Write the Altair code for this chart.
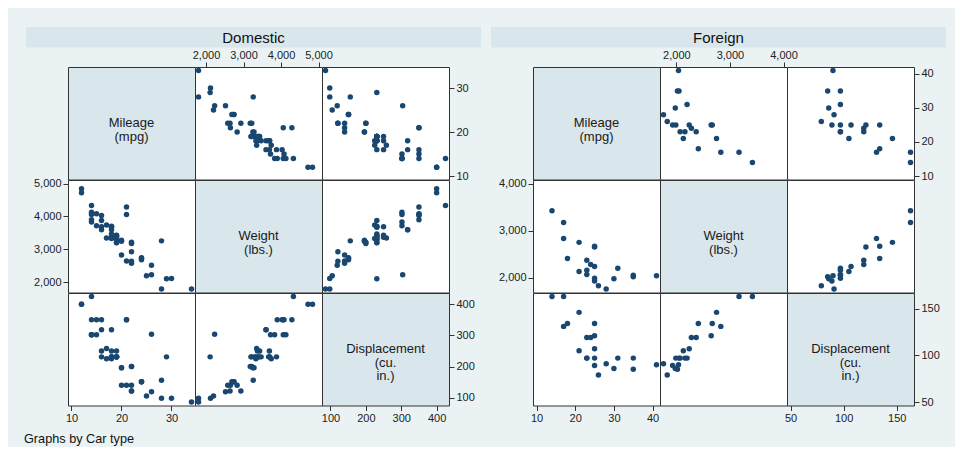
import altair as alt
import pandas as pd

# ---------------- data (1978 automobile data) ----------------
dom_mpg = [22, 17, 22, 20, 15, 18, 26, 20, 16, 19, 14, 14, 21, 29, 16, 22, 22, 24, 19, 30,
           18, 16, 17, 28, 21, 12, 12, 14, 22, 14, 15, 18, 14, 20, 21, 19, 19, 18, 19, 24,
           16, 28, 34, 25, 26, 18, 18, 18, 19, 19, 19, 24]
dom_weight = [2930, 3350, 2640, 3250, 4080, 3670, 2230, 3280, 3880, 3400, 4330, 3900, 4290,
              2110, 3690, 3180, 3220, 2750, 3430, 2120, 3600, 3600, 3740, 1800, 2650, 4840,
              4720, 3830, 2580, 4060, 3720, 3370, 4130, 2830, 4060, 3310, 3300, 3690, 3370,
              2730, 4030, 3260, 1800, 2200, 2520, 3330, 3700, 3470, 3210, 3200, 3420, 2690]
dom_displ = [121, 258, 121, 196, 350, 231, 304, 196, 231, 231, 425, 350, 350, 231, 250, 200,
             200, 151, 250, 98, 318, 318, 225, 98, 140, 400, 400, 302, 140, 302, 302, 250,
             302, 140, 350, 231, 231, 231, 231, 151, 350, 156, 86, 105, 119, 225, 231, 231,
             231, 231, 231, 151]

for_mpg = [17, 23, 25, 23, 35, 24, 21, 21, 25, 28, 30, 14, 26, 35, 18, 31, 25, 23, 41, 25, 25, 17]
for_weight = [2830, 2070, 2650, 2370, 2020, 2280, 2750, 2130, 2240, 1760, 1980, 3420, 1830,
              2050, 2410, 2200, 2670, 2160, 2040, 1930, 1990, 3170]
for_displ = [131, 97, 121, 119, 85, 119, 146, 105, 107, 91, 86, 163, 79, 97, 134, 97, 134,
             97, 90, 89, 97, 163]

panels = ["Domestic", "Foreign"]
var_names = ["mpg", "weight", "displ"]
var_labels = {"mpg": ["Mileage", "(mpg)"],
              "weight": ["Weight", "(lbs.)"],
              "displ": ["Displacement", "(cu.", "in.)"]}
ticks = {
    "Domestic": {"mpg": [10, 20, 30], "weight": [2000, 3000, 4000, 5000], "displ": [100, 200, 300, 400]},
    "Foreign": {"mpg": [10, 20, 30, 40], "weight": [2000, 3000, 4000], "displ": [50, 100, 150]},
}
footer = "Graphs by Car type"

frames = {
    "Domestic": pd.DataFrame({"mpg": dom_mpg, "weight": dom_weight, "displ": dom_displ}),
    "Foreign": pd.DataFrame({"mpg": for_mpg, "weight": for_weight, "displ": for_displ}),
}

# ---------------- style ----------------
FONT = "Liberation Sans"
NAVY = "#1a476f"
BG = "#eaf2f3"
BOX = "#d9e6ec"
W, H, GAP = 127, 112.5, 84
ONE = pd.DataFrame({"k": [0]})

AX = dict(format=",.0f", labelFont=FONT, labelFontSize=11, labelColor="#222", tickColor="#333",
          tickSize=5, tickWidth=1, domain=False, grid=False, labelPadding=2,
          labelFlush=False, labelOverlap=False, title=None)


def dom(panel, v):
    d = frames[panel][v]
    t = ticks[panel][v]
    return [min(d.min(), t[0]), max(d.max(), t[-1])]


def cell(panel, i, j):
    rv, cv = var_names[i], var_names[j]
    df = frames[panel]
    if i == 2 and j in (0, 2):
        xaxis = alt.Axis(orient="bottom", values=ticks[panel][cv], **AX)
    elif i == 0 and j == 1:
        xaxis = alt.Axis(orient="top", values=ticks[panel][cv], **AX)
    else:
        xaxis = None
    if j == 2 and i in (0, 2):
        yaxis = alt.Axis(orient="right", values=ticks[panel][rv], **AX)
    elif j == 0 and i == 1:
        yaxis = alt.Axis(orient="left", values=ticks[panel][rv], **AX)
    else:
        yaxis = None
    xs = alt.Scale(domain=dom(panel, cv), padding=3.5, nice=False, zero=False)
    ys = alt.Scale(domain=dom(panel, rv), padding=3.5, nice=False, zero=False)
    diag = i == j
    pts = alt.Chart(df).mark_circle(size=30, opacity=0 if diag else 1, color=NAVY).encode(
        x=alt.X(f"{cv}:Q", scale=xs, axis=xaxis),
        y=alt.Y(f"{rv}:Q", scale=ys, axis=yaxis),
    )
    layers = [pts]
    if diag:
        layers.append(
            alt.Chart(ONE).mark_text(font=FONT, fontSize=13, lineHeight=13.5, color="#1a1a1a",
                                     align="center", baseline="middle").encode(
                x=alt.value(W / 2), y=alt.value(H / 2), text=alt.value(var_labels[rv]))
        )
    if i == 0 and j == 0:
        layers.append(
            alt.Chart(ONE).mark_rect(color=BOX).encode(
                x=alt.value(-42), x2=alt.value(413), y=alt.value(-40), y2=alt.value(-19.5))
        )
        layers.append(
            alt.Chart(ONE).mark_text(font=FONT, fontSize=15, color="#111", align="center",
                                     baseline="middle").encode(
                x=alt.value(185.5), y=alt.value(-29.5), text=alt.value(panel))
        )
    if panel == "Domestic" and i == 2 and j == 0:
        layers.append(
            alt.Chart(ONE).mark_text(font=FONT, fontSize=12.7, color="#111", align="left",
                                     baseline="middle").encode(
                x=alt.value(-44), y=alt.value(146), text=alt.value(footer))
        )
    return alt.layer(*layers).properties(
        width=W, height=H,
        view=alt.ViewBackground(fill=BOX if diag else "white", stroke="#333", strokeWidth=1),
    )


def spacer():
    return alt.Chart(ONE).mark_point(opacity=0).encode(
        x=alt.value(0), y=alt.value(0)
    ).properties(width=GAP, height=H,
                 view=alt.ViewBackground(fill="transparent", stroke="transparent"))


charts = []
for i in range(3):
    for j in range(3):
        charts.append(cell("Domestic", i, j))
    charts.append(spacer())
    for j in range(3):
        charts.append(cell("Foreign", i, j))

chart = alt.concat(*charts, columns=7, spacing=0, bounds="flush", align="each").properties(
    background=BG,
    padding={"left": 15, "top": 18, "right": 8, "bottom": 0},
)

chart.save("out.html", embed_options={"renderer": "svg", "actions": False})
